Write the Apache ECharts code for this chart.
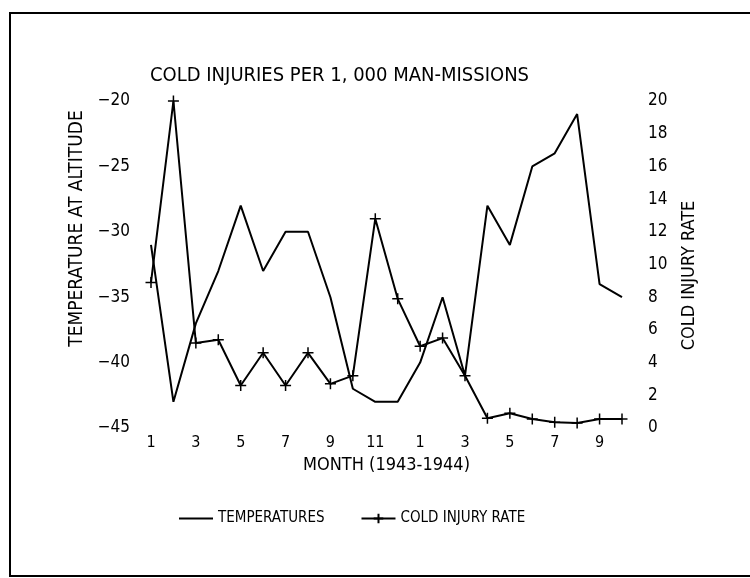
<!DOCTYPE html>
<html>
<head>
<meta charset="utf-8">
<script src="https://cdn.jsdelivr.net/npm/echarts@6/dist/echarts.min.js"></script>
<style>
    html, body { margin: 0; padding: 0; background: #fff; }
    #chart { width: 750px; height: 578px; }
</style>
</head>
<body>
<div id="chart"></div>
<script>
// months jan 1943 .. oct 1944
const months = ['1','2','3','4','5','6','7','8','9','10','11','12','1','2','3','4','5','6','7','8','9','10'];
const temperatures = [-31, -43, -37, -33, -28, -33, -30, -30, -35, -42, -43, -43, -40, -35, -41, -28, -31, -25, -24, -21, -34, -35];
const coldInjuryRate = [8.9, 20, 5.2, 5.4, 2.6, 4.6, 2.6, 4.6, 2.7, 3.2, 12.8, 7.9, 5.0, 5.5, 3.2, 0.6, 0.9, 0.55, 0.35, 0.3, 0.55, 0.55];
const tempTicks = [-45, -20, 5];   // min, max, interval
const rateTicks = [0, 20, 2];

const font = "'DejaVu Sans Condensed', 'DejaVu Sans', sans-serif";
const plus = 'path://M0,5L10,5M5,0L5,10';

const chart = echarts.init(document.getElementById('chart'));
chart.setOption({
    backgroundColor: '#fff',
    animation: false,
    title: {
        text: 'COLD INJURIES PER 1, 000 MAN-MISSIONS',
        left: 145,
        top: 61,
        textStyle: { fontFamily: font, fontSize: 20, fontWeight: 'normal', color: '#000' }
    },
    graphic: [
        {
            type: 'rect',
            shape: { x: 10, y: 13, width: 760, height: 563 },
            style: { fill: 'none', stroke: '#000', lineWidth: 2 }
        }
    ],
    legend: {
        left: 173,
        top: 506,
        itemWidth: 34,
        itemHeight: 12,
        itemGap: 36,
        textStyle: { fontFamily: font, fontSize: 15, color: '#000' },
        data: [
            { name: 'TEMPERATURES', itemStyle: { opacity: 0 } },
            'COLD INJURY RATE'
        ]
    },
    grid: { left: 151, right: 128, top: 101, bottom: 150 },
    xAxis: {
        type: 'category',
        boundaryGap: false,
        data: months,
        name: 'MONTH (1943-1944)',
        nameLocation: 'middle',
        nameGap: 26,
        nameTextStyle: { fontFamily: font, fontSize: 18, color: '#000' },
        axisLine: { show: false },
        axisTick: { show: false },
        splitLine: { show: false },
        axisLabel: { interval: 1, margin: 7, fontFamily: font, fontSize: 16, color: '#000' }
    },
    yAxis: [
        {
            type: 'value',
            min: tempTicks[0],
            max: tempTicks[1],
            interval: tempTicks[2],
            name: 'TEMPERATURE AT ALTITUDE',
            nameLocation: 'middle',
            nameRotate: 90,
            nameGap: 64,
            nameTextStyle: { fontFamily: font, fontSize: 19, color: '#000', padding: [0, 0, 0, 72] },
            axisLine: { show: false },
            axisTick: { show: false },
            splitLine: { show: false },
            axisLabel: {
                margin: 21, fontFamily: font, fontSize: 17, color: '#000',
                formatter: v => String(v).replace('-', '\u2212')
            }
        },
        {
            type: 'value',
            position: 'right',
            min: rateTicks[0],
            max: rateTicks[1],
            interval: rateTicks[2],
            name: 'COLD INJURY RATE',
            nameLocation: 'middle',
            nameRotate: 90,
            nameGap: 58,
            nameTextStyle: { fontFamily: font, fontSize: 18, color: '#000', padding: [0, 22, 0, 0] },
            axisLine: { show: false },
            axisTick: { show: false },
            splitLine: { show: false },
            axisLabel: { margin: 26, fontFamily: font, fontSize: 17, color: '#000' }
        }
    ],
    series: [
        {
            name: 'TEMPERATURES',
            type: 'line',
            yAxisIndex: 0,
            data: temperatures,
            symbol: 'none',
            lineStyle: { color: '#000', width: 2 },
            itemStyle: { color: '#000' }
        },
        {
            name: 'COLD INJURY RATE',
            type: 'line',
            yAxisIndex: 1,
            data: coldInjuryRate,
            symbol: plus,
            symbolSize: 11,
            lineStyle: { color: '#000', width: 2 },
            itemStyle: { color: 'none', borderColor: '#000', borderWidth: 1.5 }
        }
    ]
});
</script>
</body>
</html>
